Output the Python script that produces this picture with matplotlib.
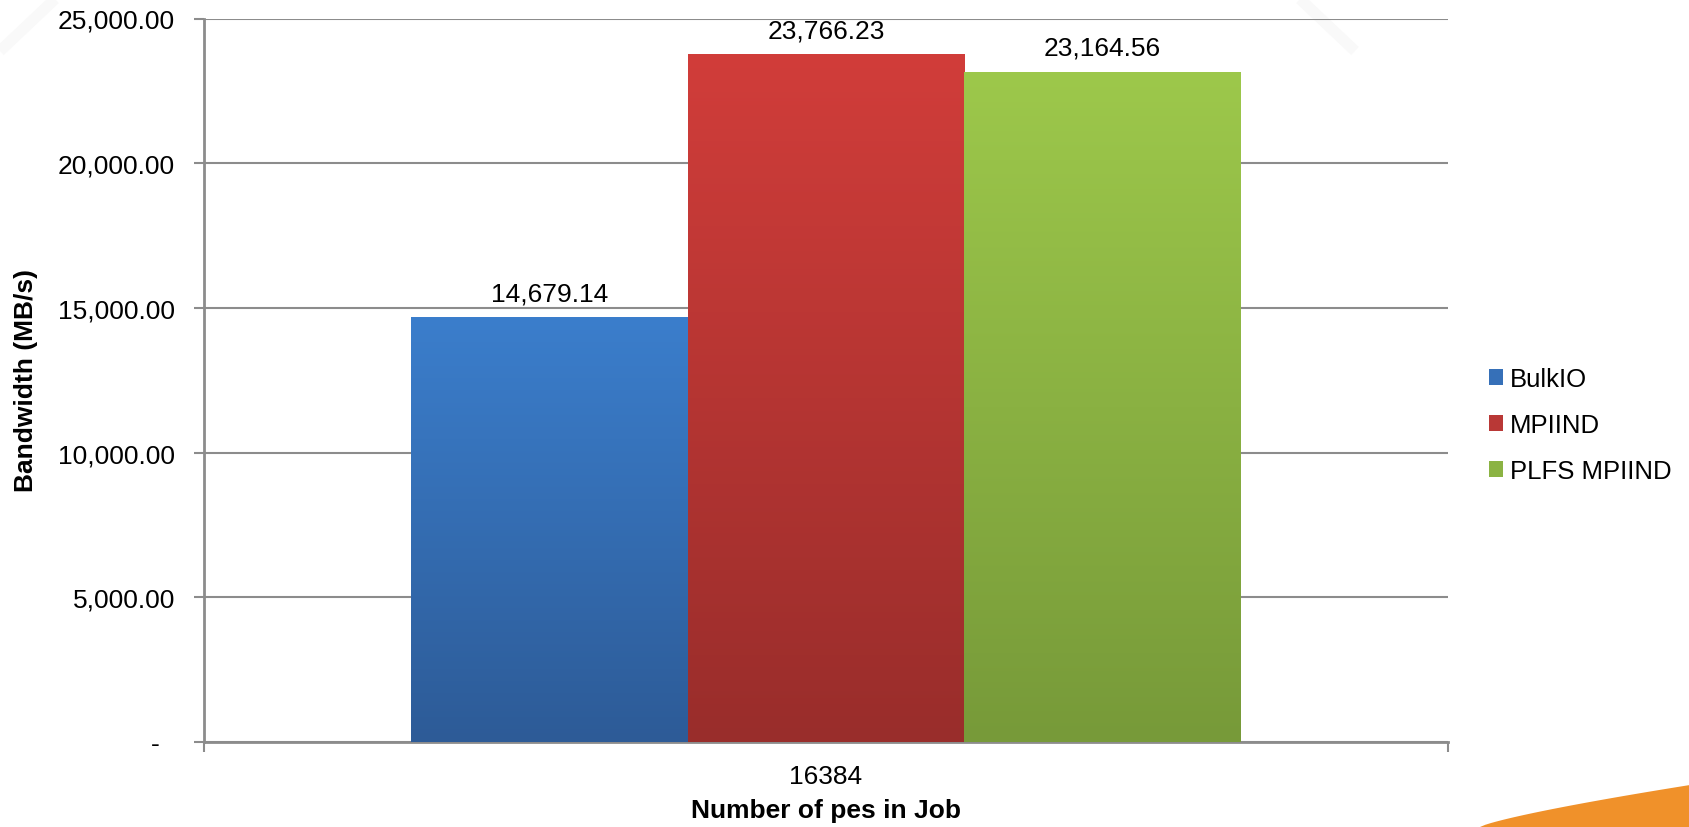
import numpy as np
import matplotlib
matplotlib.use("Agg")
import matplotlib.pyplot as plt
from matplotlib.patches import Polygon, Rectangle
from matplotlib.lines import Line2D
from matplotlib.colors import LinearSegmentedColormap

plt.rcParams['font.family'] = ['Liberation Sans', 'DejaVu Sans']

# ---- data ----
category = "16384"
series = ["BulkIO", "MPIIND", "PLFS MPIIND"]
values = [14679.14, 23766.23, 23164.56]
top_colors = ["#3B7ECC", "#D13D3A", "#9DC84B"]
bottom_colors = ["#2D5B97", "#992D2B", "#779A39"]
mid_colors = ["#3670B8", "#B93836", "#8BB343"]
yticks = [0, 5000, 10000, 15000, 20000, 25000]
ytick_labels = ["-  ", "5,000.00", "10,000.00", "15,000.00", "20,000.00", "25,000.00"]

W, H = 1690, 828
FS = 19
fig = plt.figure(figsize=(W / 100, H / 100), dpi=100)
fig.patch.set_facecolor("white")

# decorations: faint arcs top corners and orange swoosh bottom-right
fig.add_artist(Line2D([0 / W, 55 / W], [1 - 52 / H, 1.0], transform=fig.transFigure,
                      color="#f9f9f9", lw=8, zorder=0, solid_capstyle="butt"))
fig.add_artist(Line2D([1300 / W, 1355 / W], [1.0, 1 - 52 / H], transform=fig.transFigure,
                      color="#f9f9f9", lw=8, zorder=0, solid_capstyle="butt"))
xs = np.linspace(1480, 1690, 40)
t = (xs - 1480) / (1690 - 1480)
ys = 828 - 42 * (t ** 0.8)
pts = [(x / W, 1 - y / H) for x, y in zip(xs, ys)] + [(1.0, 0.0), (1480 / W, 0.0)]
fig.add_artist(Polygon(pts, closed=True, transform=fig.transFigure,
                       facecolor="#F0912A", edgecolor="none", zorder=0))

ax = fig.add_axes([204 / W, 1 - 743 / H, (1448 - 204) / W, (743 - 19.5) / H])
ax.set_facecolor("none")

n = len(series)
bw = 2 / 9
offsets = (np.arange(n) - (n - 1) / 2) * bw
for i, (s, v) in enumerate(zip(series, values)):
    bars = ax.bar(offsets[i], v, width=bw, color="none", edgecolor="none", zorder=3)
    patch = bars[0]
    cmap = LinearSegmentedColormap.from_list("g%d" % i, [bottom_colors[i], top_colors[i]])
    grad = np.linspace(0, 1, 256).reshape(-1, 1)
    x0 = patch.get_x()
    im = ax.imshow(grad, cmap=cmap, aspect="auto", origin="lower",
                   extent=[x0, x0 + bw, 0, v], zorder=3)
    im.set_clip_path(patch)
    ax.text(offsets[i], v + 420, f"{v:,.2f}", ha="center", va="bottom",
            fontsize=FS, color="black", zorder=5)

ax.set_xlim(-0.5, 0.5)
ax.set_ylim(0, 25000)

ax.set_yticks(yticks)
ax.set_yticklabels(ytick_labels, fontsize=FS)
ax.yaxis.grid(True, color="#8C8C8C", lw=1.5, zorder=1)
ax.set_axisbelow(True)

ax.set_xticks([0])
ax.set_xticklabels([category], fontsize=FS)
ax.set_xticks([-0.5, 0.5], minor=True)
ax.tick_params(axis="x", which="major", length=0, pad=16)
ax.tick_params(axis="x", which="minor", length=7, width=1.5, color="#8C8C8C", direction="out")
ax.tick_params(axis="y", length=7, width=1.5, color="#8C8C8C", direction="out", pad=14)

for side in ["top", "right"]:
    ax.spines[side].set_visible(False)
for side in ["left", "bottom"]:
    ax.spines[side].set_color("#8C8C8C")
    ax.spines[side].set_linewidth(2)

fig.text(26 / W, 1 - 381 / H, "Bandwidth (MB/s)", rotation=90, ha="center", va="center",
         fontsize=FS, fontweight="bold")
fig.text(826 / W, 1 - 811 / H, "Number of pes in Job", ha="center", va="center",
         fontsize=FS, fontweight="bold")

handles = [Rectangle((0, 0), 1, 1, facecolor=c, edgecolor="none") for c in mid_colors]
fig.legend(handles, series, loc="center left", bbox_to_anchor=(1489 / W, 1 - 426 / H),
           frameon=False, fontsize=18.5, handlelength=0.55, handleheight=0.55,
           handletextpad=0.25, labelspacing=0.86, borderaxespad=0, borderpad=0)

fig.savefig("out.png", dpi=100, facecolor="white")
